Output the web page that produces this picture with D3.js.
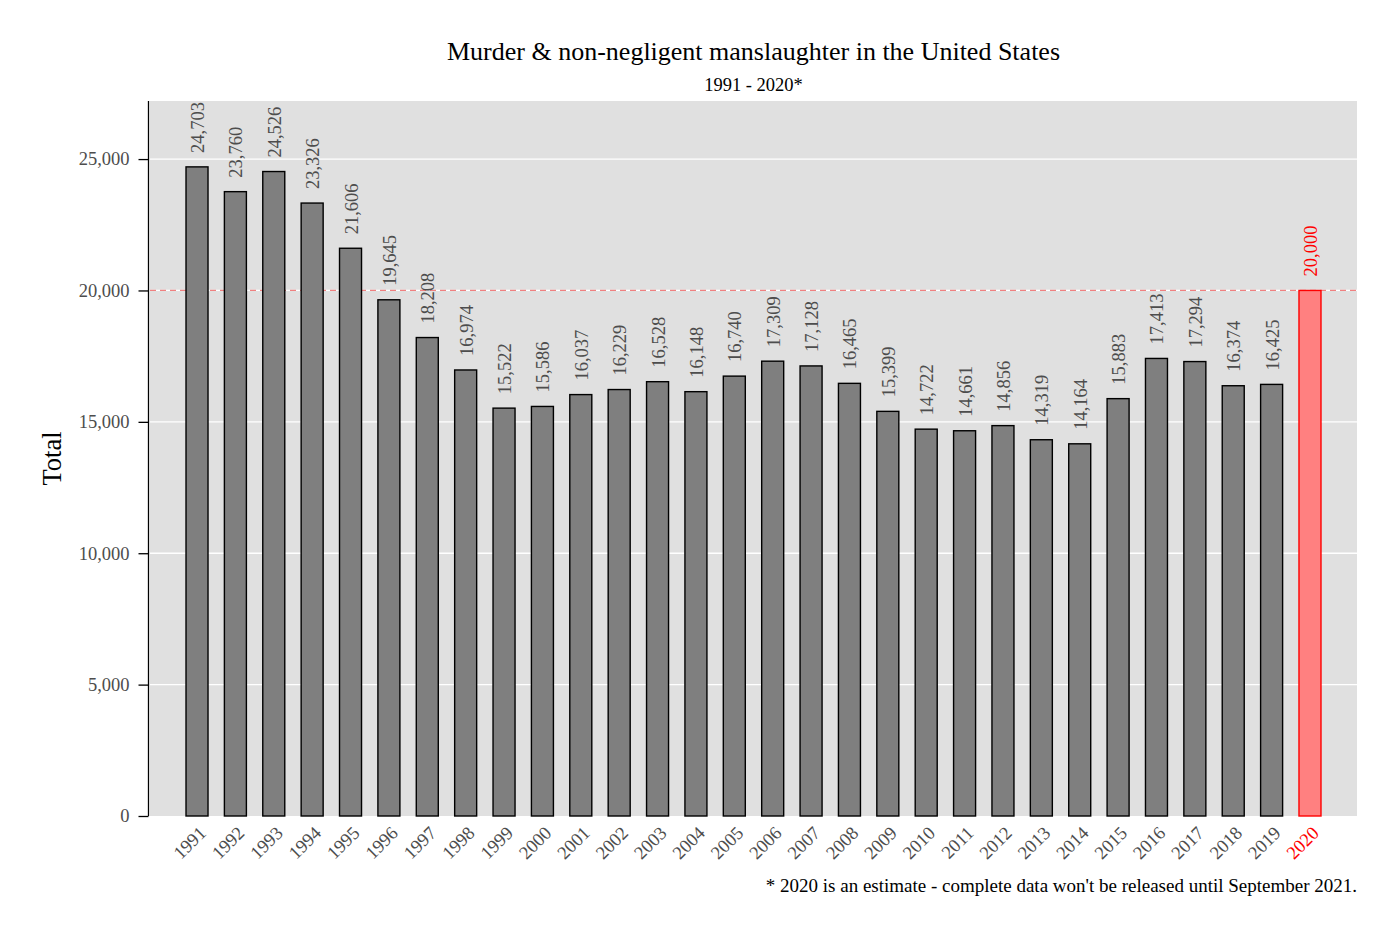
<!DOCTYPE html>
<html>
<head>
  <meta charset="utf-8">
  <title>Murder & non-negligent manslaughter in the United States</title>
  <style>
    body { margin: 0; background: #fff; font-family: "Liberation Serif", "Times New Roman", serif; }
    svg text { font-family: "Liberation Serif", "Times New Roman", serif; }
  </style>
</head>
<body>
  <div id="chart"></div>
  <script src="https://d3js.org/d3.v7.min.js"></script>
  <script>
    const years = [1991, 1992, 1993, 1994, 1995, 1996, 1997, 1998, 1999, 2000,
                   2001, 2002, 2003, 2004, 2005, 2006, 2007, 2008, 2009, 2010,
                   2011, 2012, 2013, 2014, 2015, 2016, 2017, 2018, 2019, 2020];
    const totals = [24703, 23760, 24526, 23326, 21606, 19645, 18208, 16974, 15522, 15586,
                    16037, 16229, 16528, 16148, 16740, 17309, 17128, 16465, 15399, 14722,
                    14661, 14856, 14319, 14164, 15883, 17413, 17294, 16374, 16425, 20000];
    const estimateYear = 2020;
    const refLine = 20000;
    const yTicks = [0, 5000, 10000, 15000, 20000, 25000];

    const width = 1392, height = 928;
    const panel = { left: 150, right: 1357, top: 101, bottom: 816 };

    const svg = d3.select("#chart").append("svg")
      .attr("width", width).attr("height", height);

    const x = d3.scaleLinear()
      .domain([years[0] - 1.225, years[years.length - 1] + 1.225])
      .range([panel.left, panel.right]);
    const barW = 22;

    const y = d3.scaleLinear()
      .domain([0, 27210])
      .range([panel.bottom, panel.top]);

    // panel background
    svg.append("rect")
      .attr("x", panel.left).attr("y", panel.top)
      .attr("width", panel.right - panel.left)
      .attr("height", panel.bottom - panel.top)
      .attr("fill", "#e0e0e0");

    // grid
    svg.append("g").selectAll("line")
      .data(yTicks.filter(d => d > 0))
      .join("line")
      .attr("x1", panel.left).attr("x2", panel.right)
      .attr("y1", d => y(d)).attr("y2", d => y(d))
      .attr("stroke", "#fff").attr("stroke-width", 1.3);

    // reference line
    svg.append("line")
      .attr("x1", panel.left).attr("x2", panel.right)
      .attr("y1", y(refLine)).attr("y2", y(refLine))
      .attr("stroke", "#f08080").attr("stroke-width", 1.3)
      .attr("stroke-dasharray", "6,4");

    const data = years.map((yr, i) => ({ year: yr, total: totals[i] }));

    // bars
    svg.append("g").selectAll("rect")
      .data(data)
      .join("rect")
      .attr("x", d => x(d.year) - barW / 2)
      .attr("y", d => y(d.total))
      .attr("width", barW)
      .attr("height", d => y(0) - y(d.total))
      .attr("fill", d => d.year === estimateYear ? "#ff8080" : "#7f7f7f")
      .attr("stroke", d => d.year === estimateYear ? "#ff0000" : "#000")
      .attr("stroke-width", 1.4);

    // value labels
    svg.append("g").selectAll("text")
      .data(data)
      .join("text")
      .attr("transform", d => `translate(${x(d.year) + 7},${y(d.total) - 14}) rotate(-90)`)
      .attr("text-anchor", "start")
      .attr("font-size", 18.5)
      .attr("fill", d => d.year === estimateYear ? "#ff0000" : "#4d4d4d")
      .text(d => d3.format(",")(d.total));

    // y axis
    const yAxis = svg.append("g")
      .attr("transform", `translate(${panel.left - 1.5},0)`)
      .call(d3.axisLeft(y).tickValues(yTicks).tickFormat(d3.format(",")).tickSize(10).tickPadding(9));
    yAxis.select(".domain").attr("d", `M0,${panel.top}V${panel.bottom}`).attr("stroke", "#000").attr("stroke-width", 1.3);
    yAxis.selectAll(".tick line").attr("stroke", "#000").attr("stroke-width", 1.3);
    yAxis.selectAll(".tick text").attr("font-size", 18.5).attr("fill", "#4d4d4d");

    // x labels
    svg.append("g").selectAll("text")
      .data(years)
      .join("text")
      .attr("transform", d => `translate(${x(d) + 1},${panel.bottom + 9}) rotate(-45)`)
      .attr("text-anchor", "end")
      .attr("dy", "0.7em")
      .attr("font-size", 18.5)
      .attr("fill", d => d === estimateYear ? "#ff0000" : "#4d4d4d")
      .text(d => d);

    // titles
    svg.append("text")
      .attr("x", (panel.left + panel.right) / 2).attr("y", 60)
      .attr("text-anchor", "middle").attr("font-size", 26)
      .text("Murder & non-negligent manslaughter in the United States");
    svg.append("text")
      .attr("x", (panel.left + panel.right) / 2).attr("y", 91)
      .attr("text-anchor", "middle").attr("font-size", 18.5)
      .text("1991 - 2020*");

    svg.append("text")
      .attr("transform", `translate(61,${(panel.top + panel.bottom) / 2}) rotate(-90)`)
      .attr("text-anchor", "middle").attr("font-size", 26.5)
      .text("Total");

    svg.append("text")
      .attr("x", panel.right).attr("y", 892)
      .attr("text-anchor", "end").attr("font-size", 19)
      .text("* 2020 is an estimate - complete data won't be released until September 2021.");
  </script>
</body>
</html>
